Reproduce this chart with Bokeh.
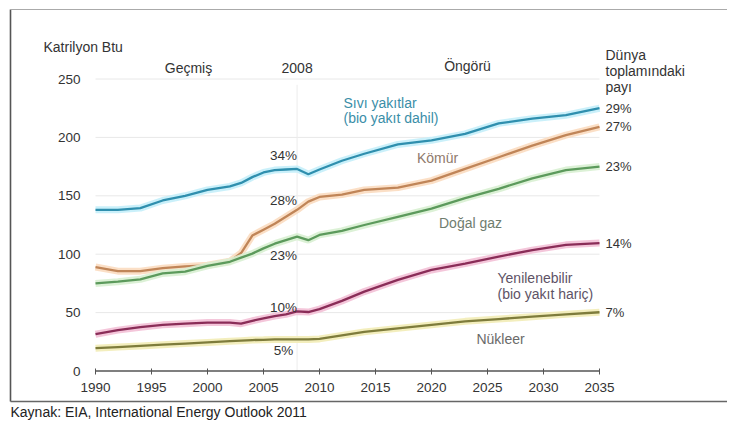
from bokeh.plotting import figure
from bokeh.models import LinearAxis, FixedTicker, Range1d
from bokeh.embed import file_html
from bokeh.resources import INLINE
from bokeh.core.properties import value

# ---------------- data ----------------
years = [1990, 1992, 1994, 1996, 1998, 2000, 2002, 2003, 2004, 2005, 2006, 2007,
         2008, 2009, 2010, 2012, 2014, 2017, 2020, 2023, 2026, 2029, 2032, 2035]
liquids = [138, 138, 139.5, 146, 150, 155, 158, 161, 166, 170, 172, 172.5,
           173, 168.5, 172.5, 180, 186, 194, 197.5, 203, 212, 216, 219, 225]
coal = [89, 85.5, 85.5, 88, 89.5, 90.5, 94, 101, 116, 121, 126, 132,
        138, 145, 149, 151, 155, 157, 163, 173, 183, 193, 202, 209]
gas = [75, 76.5, 78.5, 83.5, 85, 90, 93.5, 97, 100.5, 105, 109, 112,
       115, 112, 116.5, 120, 125, 132, 139, 148, 156, 165, 172, 175]
renewables = [31.5, 35, 37.5, 39.5, 40.5, 41.5, 41.5, 40.5, 43, 45, 47, 48.5,
              51, 50.5, 53, 60, 68, 78, 86.5, 92, 98, 103.5, 108, 109.5]
nuclear = [19.5, 20.5, 21.5, 22.5, 23.5, 24.5, 25.5, 26, 26.5, 26.7, 27, 27,
           27, 27, 27.5, 30.5, 33.5, 36.5, 39.5, 42.5, 44.5, 46.5, 48.5, 50.3]

x_ticks = [1990, 1995, 2000, 2005, 2010, 2015, 2020, 2025, 2030, 2035]
y_ticks = [0, 50, 100, 150, 200, 250]
base_year = 2008
share_2008 = ["34%", "28%", "23%", "10%", "5%"]
share_2035 = ["29%", "27%", "23%", "14%", "7%"]

# ---------------- geometry helpers (picture pixels -> data) ----------------
FIG_W, FIG_H = 727, 421
PX_PER_YEAR = 11.2
PX_PER_UNIT = 1.168
X0_PX, Y0_PX = 95.0, 370.5   # picture position of (1990, 0)


def X(px):
    return 1990 + (px - X0_PX) / PX_PER_YEAR


def Y(py):
    return (Y0_PX - py) / PX_PER_UNIT


FONT = value("Liberation Sans")

p = figure(width=FIG_W, height=FIG_H,
           x_range=Range1d(X(0), X(FIG_W)),
           y_range=Range1d(Y(FIG_H), Y(0)),
           x_axis_type=None, y_axis_type=None,
           toolbar_location=None, output_backend="svg",
           min_border=0, outline_line_color=None,
           background_fill_color="white", border_fill_color="white")

# scan frame
p.line(x=[X(10), X(10)], y=[Y(9), Y(401)], line_color="#555555", line_width=1.6)
p.line(x=[X(10), X(745)], y=[Y(401), Y(401)], line_color="#666666", line_width=1.6)
p.line(x=[X(10), X(745)], y=[Y(9), Y(9)], line_color="#aaaaaa", line_width=1.2)

# grid lines and 2008 divider
p.segment(x0=[years[0]] * (len(y_ticks) - 1), x1=[years[-1]] * (len(y_ticks) - 1),
          y0=y_ticks[1:], y1=y_ticks[1:], line_color="#e8e8e8", line_width=1)
p.segment(x0=[base_year], x1=[base_year], y0=[y_ticks[0]], y1=[y_ticks[-1] - 5],
          line_color="#ececec", line_width=1)

# x axis line
p.line(x=[x_ticks[0], x_ticks[-1]], y=[0, 0], line_color="#555555", line_width=1.5)

xaxis = LinearAxis(ticker=FixedTicker(ticks=x_ticks), fixed_location=0,
                   axis_line_color=None, major_tick_in=3, major_tick_out=3,
                   major_tick_line_color="#555555", minor_tick_line_color=None,
                   major_label_text_font="Liberation Sans",
                   major_label_text_font_size="13.5px",
                   major_label_text_color="#333333", major_label_standoff=9)
p.add_layout(xaxis, "below")

yaxis = LinearAxis(ticker=FixedTicker(ticks=y_ticks), fixed_location=X(89),
                   axis_line_color=None, major_tick_line_color=None,
                   minor_tick_line_color=None,
                   major_label_text_font="Liberation Sans",
                   major_label_text_font_size="13.5px",
                   major_label_text_color="#333333", major_label_standoff=3)
p.add_layout(yaxis, "left")

# series lines (glow + core)
series = [
    (liquids, "#2f8fae", "#c4eefa"),
    (coal, "#c08558", "#fbdcc0"),
    (gas, "#5c9a5c", "#d8efd2"),
    (renewables, "#8a2d58", "#f3c0d6"),
    (nuclear, "#7e7c3c", "#f2ecb6"),
]
for vals, core, glow in series:
    p.line(x=years, y=vals, line_color=glow, line_width=7, line_alpha=0.9)
    p.line(x=years, y=vals, line_color=core, line_width=2.3)


def txt(x, y, t, color="#333333", size="14px", align="left"):
    p.text(x=x, y=y, text=t, text_font=FONT, text_font_size=size,
           text_align=align, text_baseline="middle", text_color=color)


# headers
txt([X(43)], [Y(46)], ["Katrilyon Btu"], size="14px")
txt([X(188)], [Y(67)], ["Geçmiş"], align="center")
txt([base_year], [Y(67)], [str(base_year)], align="center")
txt([X(467)], [Y(65)], ["Öngörü"], align="center")
txt([X(605)] * 3, [Y(54), Y(70), Y(86)], ["Dünya", "toplamındaki", "payı"])

# shares
txt([X(283)] * 5, [Y(155), Y(200), Y(255), Y(307), Y(350)], share_2008,
    size="13.5px", align="center")
ends = [s[0][-1] for s in series]
p.text(x=[years[-1]] * 5, y=ends, text=share_2035, text_font=FONT,
       text_font_size="13px", text_align="left", text_baseline="middle",
       text_color="#333333", x_offset=6)

# series labels
txt([X(343)] * 2, [Y(102), Y(117)], ["Sıvı yakıtlar", "(bio yakıt dahil)"], color="#3a8ea8")
txt([X(437)], [Y(157)], ["Kömür"], color="#8f7a6c", align="center")
txt([X(470)], [Y(222)], ["Doğal gaz"], color="#6f7d6f", align="center")
txt([X(497)] * 2, [Y(277), Y(293)], ["Yenilenebilir", "(bio yakıt hariç)"], color="#5e5366")
txt([X(500)], [Y(338)], ["Nükleer"], color="#6a6a6a", align="center")

# source
p.text(x=[X(10)], y=[Y(411)], text=["Kaynak:  EIA, International Energy Outlook 2011"],
       text_font=FONT, text_font_size="14px", text_align="left",
       text_baseline="middle", text_color="#222222")

open("out.html", "w").write(file_html(p, INLINE))
